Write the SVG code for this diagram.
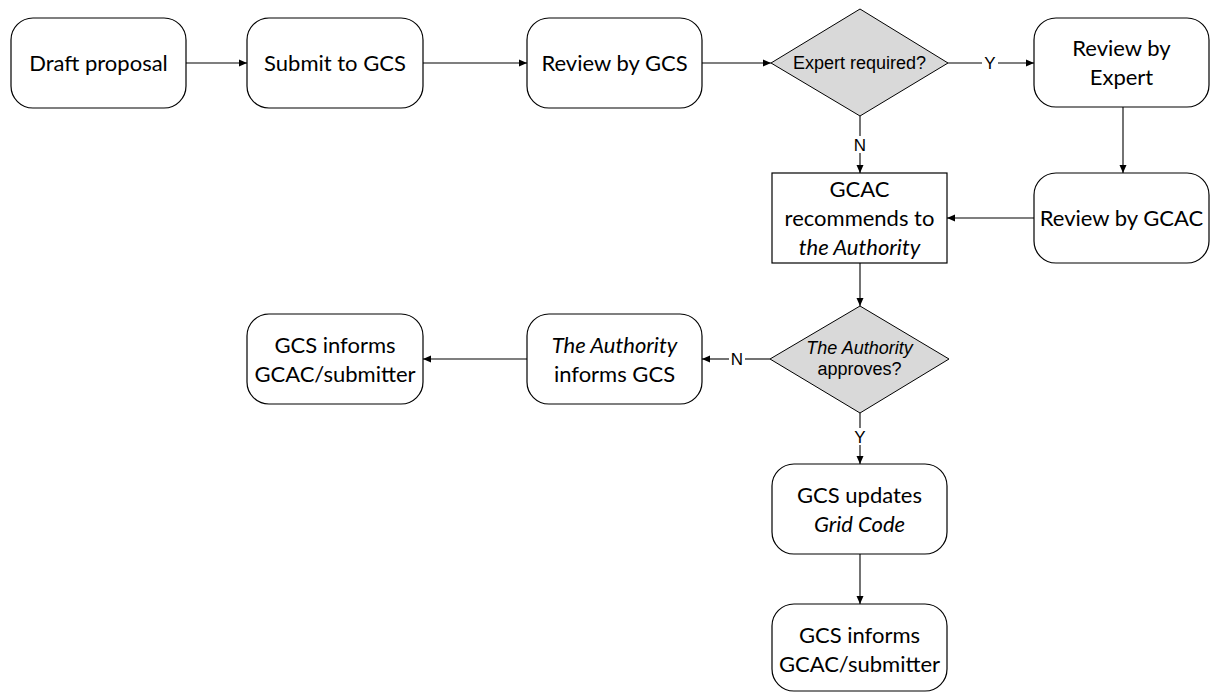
<svg xmlns="http://www.w3.org/2000/svg" width="1216" height="693" viewBox="0 0 1216 693">
  <defs>
    <marker id="arrow" markerWidth="8" markerHeight="8" refX="8" refY="4" orient="auto" markerUnits="userSpaceOnUse">
      <path d="M0,0.5 L8,4 L0,7.5 Z" fill="#000"/>
    </marker>
    <style>
      .box { fill: #fff; stroke: #000; stroke-width: 1.2; }
      .dec { fill: #d9d9d9; stroke: #000; stroke-width: 1; }
      .t { font-family: Lato, "Open Sans", sans-serif; font-size: 22px; fill: #000; text-anchor: middle; }
      .d { font-family: "Liberation Sans", Arial, sans-serif; font-size: 18px; fill: #000; text-anchor: middle; }
      .lbl { font-family: "Liberation Sans", Arial, sans-serif; font-size: 17px; fill: #000; text-anchor: middle; }
      .i { font-style: italic; }
      .edge { fill: none; stroke: #000; stroke-width: 1.1; }
    </style>
  </defs>
  <rect width="1216" height="693" fill="#fff"/>

  <!-- flow lines -->
  <g id="connectors">
    <line class="edge" x1="186" y1="63" x2="247" y2="63" marker-end="url(#arrow)"/>
    <line class="edge" x1="423" y1="63" x2="527" y2="63" marker-end="url(#arrow)"/>
    <line class="edge" x1="702" y1="63" x2="771" y2="63" marker-end="url(#arrow)"/>
    <!-- Y branch to expert review -->
    <line class="edge" x1="948" y1="63" x2="982" y2="63"/>
    <line class="edge" x1="998" y1="63" x2="1034" y2="63" marker-end="url(#arrow)"/>
    <text class="lbl" x="990" y="69">Y</text>
    <!-- N branch to GCAC -->
    <line class="edge" x1="860" y1="116" x2="860" y2="136"/>
    <line class="edge" x1="860" y1="153" x2="860" y2="173" marker-end="url(#arrow)"/>
    <text class="lbl" x="860" y="151">N</text>
    <line class="edge" x1="1123" y1="107" x2="1123" y2="173" marker-end="url(#arrow)"/>
    <line class="edge" x1="1034" y1="218" x2="947" y2="218" marker-end="url(#arrow)"/>
    <line class="edge" x1="860" y1="263" x2="860" y2="306" marker-end="url(#arrow)"/>
    <!-- N branch to authority informs -->
    <line class="edge" x1="770" y1="359" x2="745" y2="359"/>
    <line class="edge" x1="729" y1="359" x2="702" y2="359" marker-end="url(#arrow)"/>
    <text class="lbl" x="737" y="365">N</text>
    <line class="edge" x1="527" y1="359" x2="423" y2="359" marker-end="url(#arrow)"/>
    <!-- Y branch to update -->
    <line class="edge" x1="860" y1="413" x2="860" y2="428"/>
    <line class="edge" x1="860" y1="445" x2="860" y2="464" marker-end="url(#arrow)"/>
    <text class="lbl" x="860" y="443">Y</text>
    <line class="edge" x1="860" y1="554" x2="860" y2="604" marker-end="url(#arrow)"/>
  </g>

  <g id="draft">
    <rect class="box" x="11" y="18" width="175" height="90" rx="22"/>
    <text class="t" x="98.5" y="71">Draft proposal</text>
  </g>
  <g id="submit">
    <rect class="box" x="247" y="18" width="176" height="90" rx="22"/>
    <text class="t" x="335" y="71">Submit to GCS</text>
  </g>
  <g id="review-gcs">
    <rect class="box" x="527" y="18" width="175" height="90" rx="22"/>
    <text class="t" x="614.5" y="71">Review by GCS</text>
  </g>
  <g id="expert-required">
    <polygon class="dec" points="771,63 860,9 948,63 860,116"/>
    <text class="d" x="859.5" y="69">Expert required?</text>
  </g>
  <g id="review-expert">
    <rect class="box" x="1034" y="18" width="175" height="89" rx="22"/>
    <text class="t" x="1121.5" y="56">Review by</text>
    <text class="t" x="1121.5" y="85">Expert</text>
  </g>
  <g id="review-gcac">
    <rect class="box" x="1034" y="173" width="175" height="90" rx="22"/>
    <text class="t" x="1121.5" y="226">Review by GCAC</text>
  </g>
  <g id="gcac-recommends">
    <rect class="box" x="772" y="173" width="175" height="90"/>
    <text class="t" x="859.5" y="197">GCAC</text>
    <text class="t" x="859.5" y="226">recommends to</text>
    <text class="t i" x="859.5" y="255">the Authority</text>
  </g>
  <g id="authority-approves">
    <polygon class="dec" points="770,359 860,306 949,359 860,413"/>
    <text class="d i" x="859.5" y="354">The Authority</text>
    <text class="d" x="859.5" y="375">approves?</text>
  </g>
  <g id="authority-informs">
    <rect class="box" x="527" y="314" width="175" height="90" rx="22"/>
    <text class="t i" x="614.5" y="353">The Authority</text>
    <text class="t" x="614.5" y="382">informs GCS</text>
  </g>
  <g id="informs-rejected">
    <rect class="box" x="247" y="314" width="176" height="90" rx="22"/>
    <text class="t" x="335" y="353">GCS informs</text>
    <text class="t" x="335" y="382">GCAC/submitter</text>
  </g>
  <g id="updates-code">
    <rect class="box" x="772" y="464" width="175" height="90" rx="22"/>
    <text class="t" x="859.5" y="503">GCS updates</text>
    <text class="t i" x="859.5" y="532">Grid Code</text>
  </g>
  <g id="informs-approved">
    <rect class="box" x="772" y="604" width="175" height="87" rx="22"/>
    <text class="t" x="859.5" y="643">GCS informs</text>
    <text class="t" x="859.5" y="672">GCAC/submitter</text>
  </g>
</svg>
